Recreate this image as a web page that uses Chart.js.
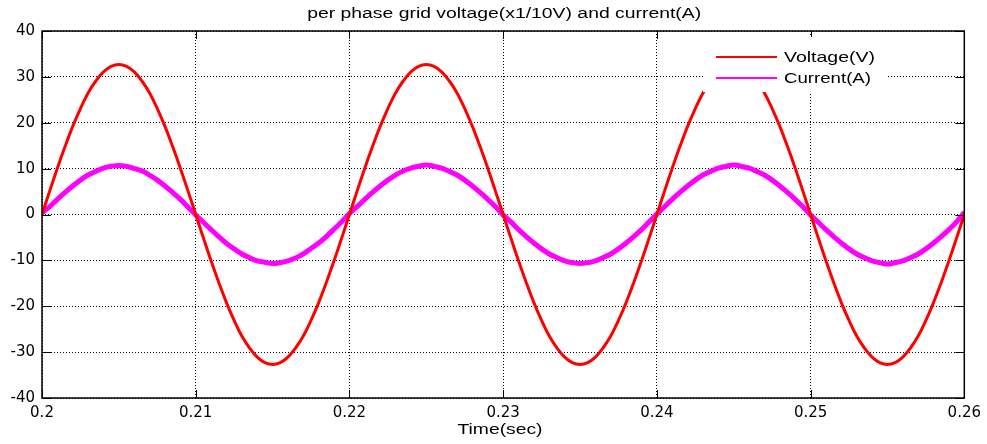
<!DOCTYPE html>
<html>
<head>
<meta charset="utf-8">
<script src="https://cdn.jsdelivr.net/npm/chart.js@4.4.1/dist/chart.umd.min.js"></script>
<style>
    html, body { margin: 0; padding: 0; background: #fff; }
    #wrap { width: 987px; height: 444px; }
</style>
</head>
<body>
<div id="wrap"><canvas id="grid"></canvas></div>
<script>
// samples every 0.5 ms
const tStart = 0.2;
const tStep = 0.0005;

const voltage = [
    0, 5.1, 10.1, 14.8, 19.2, 23.1, 26.5, 29.1, 31.1, 32.3, 32.7, 32.3, 31.1, 29.1, 26.5, 23.1, 19.2, 14.8, 10.1, 5.1,
    0, -5.1, -10.1, -14.8, -19.2, -23.1, -26.5, -29.1, -31.1, -32.3, -32.7, -32.3, -31.1, -29.1, -26.5, -23.1, -19.2, -14.8, -10.1, -5.1,
    0, 5.1, 10.1, 14.8, 19.2, 23.1, 26.5, 29.1, 31.1, 32.3, 32.7, 32.3, 31.1, 29.1, 26.5, 23.1, 19.2, 14.8, 10.1, 5.1,
    0, -5.1, -10.1, -14.8, -19.2, -23.1, -26.5, -29.1, -31.1, -32.3, -32.7, -32.3, -31.1, -29.1, -26.5, -23.1, -19.2, -14.8, -10.1, -5.1,
    0, 5.1, 10.1, 14.8, 19.2, 23.1, 26.5, 29.1, 31.1, 32.3, 32.7, 32.3, 31.1, 29.1, 26.5, 23.1, 19.2, 14.8, 10.1, 5.1,
    0, -5.1, -10.1, -14.8, -19.2, -23.1, -26.5, -29.1, -31.1, -32.3, -32.7, -32.3, -31.1, -29.1, -26.5, -23.1, -19.2, -14.8, -10.1, -5.1,
    0
];

const current = [
    0.4, 1.7, 3.3, 4.8, 6.2, 7.5, 8.6, 9.4, 10.1, 10.5, 10.7, 10.5, 10.0, 9.5, 8.6, 7.5, 6.2, 4.8, 3.3, 1.6,
    -0.1, -1.7, -3.3, -4.8, -6.3, -7.5, -8.6, -9.4, -10.1, -10.4, -10.7, -10.5, -10.1, -9.5, -8.6, -7.4, -6.2, -4.8, -3.2, -1.6,
    0.2, 1.7, 3.3, 4.8, 6.2, 7.5, 8.6, 9.5, 10.1, 10.5, 10.8, 10.5, 10.1, 9.4, 8.6, 7.5, 6.2, 4.8, 3.3, 1.7,
    -0.1, -1.6, -3.3, -4.8, -6.2, -7.5, -8.6, -9.4, -10.1, -10.5, -10.7, -10.5, -10.1, -9.4, -8.6, -7.5, -6.2, -4.8, -3.3, -1.6,
    0.1, 1.7, 3.3, 4.8, 6.2, 7.5, 8.6, 9.4, 10.1, 10.5, 10.8, 10.5, 10.1, 9.4, 8.6, 7.5, 6.2, 4.8, 3.3, 1.7,
    -0.1, -1.7, -3.3, -4.8, -6.2, -7.5, -8.6, -9.4, -10.1, -10.5, -10.8, -10.5, -10.1, -9.4, -8.6, -7.5, -6.2, -4.8, -3.3, -1.6,
    0.5
];

const xTicks = ['0.2', '0.21', '0.22', '0.23', '0.24', '0.25', '0.26'];
const yTicks = [40, 30, 20, 10, 0, -10, -20, -30, -40];

const titleText = 'per phase grid voltage(x1/10V) and current(A)';
const xLabel = 'Time(sec)';
const seriesNames = ['Voltage(V)', 'Current(A)'];

const toPoints = arr => arr.map((v, i) => ({ x: tStart + i * tStep, y: v }));

// draw text stretched horizontally to a given width (the source image is wide)
function stretchText(ctx, text, cx, cy, width, align) {
    const w = ctx.measureText(text).width;
    ctx.save();
    ctx.translate(cx, cy);
    ctx.scale(width / w, 1);
    ctx.textAlign = align || 'center';
    ctx.textBaseline = 'middle';
    ctx.fillText(text, 0, 0);
    ctx.restore();
}

const matlabAxes = {
    id: 'matlabAxes',
    afterDatasetsDraw(chart) {
        const { ctx, chartArea: { left, top, right, bottom }, scales: { x, y } } = chart;
        ctx.save();
        ctx.strokeStyle = '#000';
        ctx.lineWidth = 1;
        ctx.beginPath();
        xTicks.forEach(t => {
            const px = Math.round(x.getPixelForValue(+t)) + 0.5;
            ctx.moveTo(px, bottom); ctx.lineTo(px, bottom - 8);
            ctx.moveTo(px, top); ctx.lineTo(px, top + 8);
        });
        yTicks.forEach(t => {
            const py = Math.round(y.getPixelForValue(t)) + 0.5;
            ctx.moveTo(left, py); ctx.lineTo(left + 9, py);
            ctx.moveTo(right, py); ctx.lineTo(right - 9, py);
        });
        ctx.stroke();
        ctx.lineWidth = 1.5;
        ctx.strokeRect(left, top, right - left, bottom - top);
        ctx.restore();
    },
    afterDraw(chart) {
        const { ctx, chartArea: { left, right } } = chart;
        ctx.save();
        ctx.fillStyle = '#000';

        ctx.font = '14px "Liberation Sans", Arial, sans-serif';
        stretchText(ctx, titleText, (left + right) / 2 + 1, 14, 394);
        ctx.font = '15px "Liberation Sans", Arial, sans-serif';
        stretchText(ctx, xLabel, 500, 430, 85);

        // legend box
        ctx.fillStyle = '#fff';
        ctx.fillRect(703, 37, 184, 55);
        const colors = chart.data.datasets.map(d => d.borderColor);
        const rows = [57, 78];
        const widths = [91, 87];
        ctx.font = '15px "Liberation Sans", Arial, sans-serif';
        rows.forEach((ry, i) => {
            ctx.strokeStyle = colors[i];
            ctx.lineWidth = 2;
            ctx.beginPath();
            ctx.moveTo(716, ry); ctx.lineTo(777, ry);
            ctx.stroke();
            ctx.fillStyle = '#000';
            stretchText(ctx, seriesNames[i], 784, ry + 1, widths[i], 'left');
        });
        ctx.restore();
    }
};

const tickFont = { family: '"DejaVu Sans", sans-serif', size: 15 };

new Chart(document.getElementById('grid'), {
    type: 'line',
    plugins: [matlabAxes],
    data: {
        datasets: [
            {
                label: seriesNames[0],
                data: toPoints(voltage),
                borderColor: '#ff0000',
                borderWidth: 3,
                pointRadius: 0,
                tension: 0.4,
                fill: false
            },
            {
                label: seriesNames[1],
                data: toPoints(current),
                borderColor: '#ff00ff',
                borderWidth: 5,
                pointRadius: 0,
                tension: 0.4,
                fill: false
            }
        ]
    },
    options: {
        responsive: true,
        maintainAspectRatio: false,
        animation: false,
        layout: { padding: { top: 31, right: 21, left: 0, bottom: 0 } },
        plugins: {
            legend: { display: false },
            title: { display: false },
            tooltip: { enabled: false }
        },
        scales: {
            x: {
                type: 'linear',
                min: 0.2,
                max: 0.26,
                afterBuildTicks: s => { s.ticks = xTicks.map(t => ({ value: +t })); },
                afterFit: s => { s.height = 46; },
                ticks: {
                    callback: v => xTicks.find(t => Math.abs(+t - v) < 1e-6),
                    color: '#000',
                    font: tickFont,
                    padding: 6,
                    maxRotation: 0
                },
                grid: { color: '#000', lineWidth: 1, drawTicks: false },
                border: { display: false, dash: [1, 2] }
            },
            y: {
                min: -40,
                max: 40,
                afterBuildTicks: s => { s.ticks = yTicks.map(t => ({ value: t })); },
                afterFit: s => { s.width = 42; },
                ticks: {
                    color: '#000',
                    font: tickFont,
                    padding: 7
                },
                grid: { color: '#000', lineWidth: 1, drawTicks: false },
                border: { display: false, dash: [1, 2] }
            }
        }
    }
});
</script>
</body>
</html>
